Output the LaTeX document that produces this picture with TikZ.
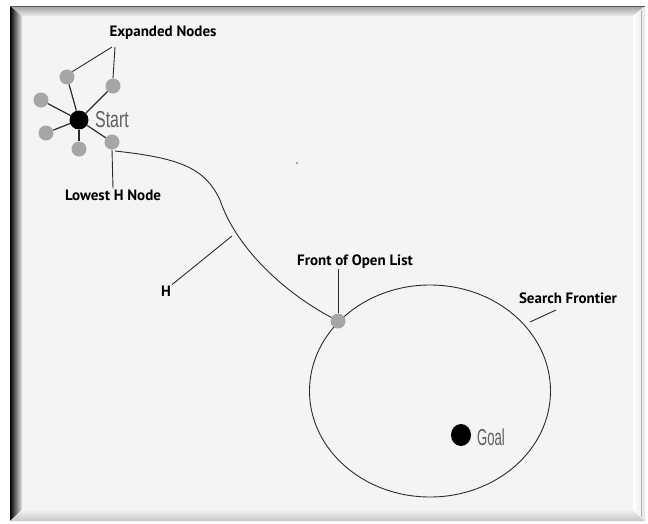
\documentclass[tikz,border=0pt]{standalone}
\usepackage{fontspec}
\usetikzlibrary{shapes.geometric}
\setmainfont{PT Sans}
\newfontfamily\condfont{Liberation Sans}
\definecolor{paper}{HTML}{F4F4F4}
\definecolor{nodegray}{HTML}{A6A6A6}
\definecolor{inkgray}{HTML}{2A2A2A}
\definecolor{txtgray}{HTML}{5E5E5E}
\tikzset{
  gnode/.style={circle,fill=nodegray,minimum size=15pt,inner sep=0pt},
  bnode/.style={circle,fill=black,minimum size=19pt,inner sep=0pt},
  lbl/.style={font=\bfseries\fontsize{15}{17}\selectfont,text=black,inner sep=1pt},
  cond/.style={font=\condfont\fontsize{23}{24}\selectfont,text=txtgray,inner sep=0pt,anchor=west},
  edge/.style={draw=inkgray,line width=1.2pt},
  thin/.style={draw=inkgray,line width=0.9pt}
}
\begin{document}
\begin{tikzpicture}[x=1pt,y=-1pt]
\useasboundingbox (0,0) rectangle (648,523);
\fill[white] (0,0) rectangle (648,523);
% frame
\fill[paper] (22,16) rectangle (633,510);
\shade[top color=gray!75, bottom color=gray!15] (10,6) -- (645,6) -- (633,16) -- (22,16) -- cycle;
\shade[left color=black, right color=gray!20] (10,6) -- (22,16) -- (22,510) -- (10,521) -- cycle;
\shade[top color=gray!10, bottom color=gray!45] (10,521) -- (22,510) -- (633,510) -- (645,521) -- cycle;
\shade[left color=white, right color=gray!20] (633,16) -- (645,6) -- (645,521) -- (633,510) -- cycle;
\draw[gray!70!black,line width=1pt] (10,6) -- (645,6);
\draw[gray!60,line width=0.6pt] (641,10) -- (641,517);

% search frontier ellipse
\draw[inkgray,line width=0.9pt] (430,391) ellipse [x radius=120.5pt, y radius=106pt];

% start and expanded nodes
\node[bnode] (start) at (79,120) {};
\node[gnode] (g1) at (67,77) {};
\node[gnode] (g2) at (113,86) {};
\node[gnode] (g3) at (41,100) {};
\node[gnode] (g4) at (46,133) {};
\node[gnode] (g5) at (79,149) {};
\node[gnode] (g6) at (112,142) {};
\foreach \g in {g1,g2,g3,g4,g5,g6}{
  \draw[edge] (start) -- (\g);
}
\node[cond] (starttxt) at (95,120) {\scalebox{0.69}[1]{Start}};

% front of open list node and goal
\node[gnode] (front) at (338,321) {};
\node[ellipse,fill=black,inner sep=0pt,minimum width=20pt,minimum height=22pt] (goal) at (461,435) {};
\node[cond] (goaltxt) at (477,437) {\scalebox{0.57}[1]{Goal}};

% heuristic path
\draw[thin] (115,151) .. controls (180,158) and (205,168) .. (220,200)
  .. controls (235,245) and (280,290) .. (front);

% labels
\node[lbl] (exp) at (163,33) {Expanded Nodes};
\coordinate (e1) at (112,47);
\coordinate (e2) at (115,47);
\draw[thin] (e1) -- (g1.north east);
\draw[thin] (e2) -- (g2.north);

\node[lbl] (low) at (113,195) {Lowest H Node};
\draw[thin] (g6.south) -- (low.north);

\node[lbl] (h) at (166,291) {H};
\coordinate (hp) at (232,236);
\draw[thin] (hp) -- (h.north east);

\node[lbl] (fol) at (355,262) {Front of Open List};
\draw[thin] (338,269) -- (front.north);

\node[lbl] (sf) at (568,298) {Search Frontier};
\coordinate (sfp) at (530,322);
\draw[thin] (sfp) -- (556,310);

% speck
\fill[gray!70] (297,163) circle [radius=1.3pt];
\end{tikzpicture}
\end{document}
